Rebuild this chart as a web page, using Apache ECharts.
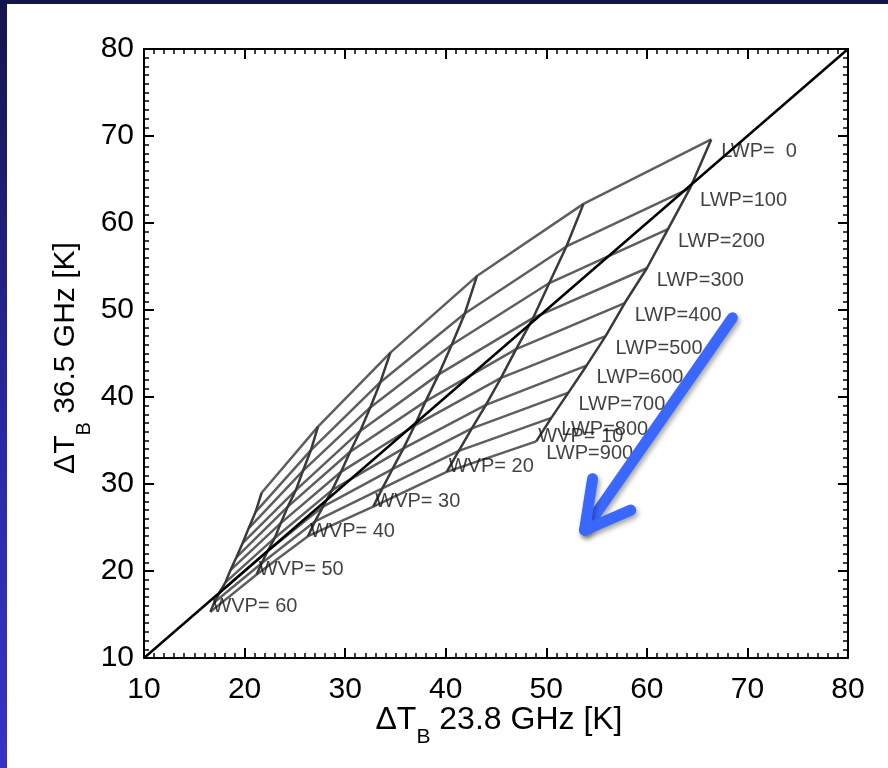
<!DOCTYPE html>
<html>
<head>
<meta charset="utf-8">
<script src="https://cdn.jsdelivr.net/npm/echarts@6/dist/echarts.min.js"></script>
<style>
  body { margin: 0; background: #fff; }
  #main { width: 888px; height: 768px; }
</style>
</head>
<body>
<div id="main"></div>
<script>
  // axis ticks
  const xTicks = [10, 20, 30, 40, 50, 60, 70, 80];
  const yTicks = [10, 20, 30, 40, 50, 60, 70, 80];

  // grid levels
  const wvpLevels = [10, 20, 30, 40, 50, 60];
  const lwpLevels = [0, 100, 200, 300, 400, 500, 600, 700, 800, 900];

  // points along each WVP line, LWP = 0 .. 900
  const wvp10X = [66.4, 64.3, 62.1, 60.0, 57.8, 55.9, 54.0, 52.2, 50.5, 49.0];
  const wvp10Y = [69.6, 64.0, 59.3, 54.8, 50.8, 47.0, 43.6, 40.5, 37.6, 34.9];
  const wvp20X = [53.7, 52.0, 50.3, 48.7, 47.0, 45.5, 44.0, 42.6, 41.3, 40.1];
  const wvp20Y = [62.2, 57.3, 53.1, 49.1, 45.5, 42.2, 39.1, 36.4, 33.8, 31.4];
  const wvp30X = [43.1, 41.9, 40.6, 39.3, 38.0, 36.9, 35.8, 34.7, 33.7, 32.8];
  const wvp30Y = [53.9, 49.6, 46.0, 42.6, 39.5, 36.7, 34.1, 31.7, 29.5, 27.4];
  const wvp40X = [34.5, 33.5, 32.5, 31.5, 30.5, 29.6, 28.7, 27.8, 27.0, 26.3];
  const wvp40Y = [45.1, 41.7, 38.8, 36.1, 33.7, 31.4, 29.3, 27.4, 25.7, 24.0];
  const wvp50X = [27.3, 26.6, 25.8, 25.1, 24.3, 23.6, 23.0, 22.3, 21.7, 21.2];
  const wvp50Y = [36.6, 33.9, 31.5, 29.3, 27.4, 25.5, 23.8, 22.3, 20.9, 19.6];
  const wvp60X = [21.7, 21.1, 20.4, 19.8, 19.2, 18.6, 18.1, 17.5, 17.0, 16.6];
  const wvp60Y = [29.0, 26.8, 24.9, 23.2, 21.6, 20.1, 18.7, 17.5, 16.4, 15.3];

  // 1:1 line
  const diagX = [10, 80];
  const diagY = [10, 80];

  // blue arrow: shaft start, tip, upper barb end, right barb end
  const arrowX = [68.5, 53.8, 54.6, 58.4];
  const arrowY = [49.1, 24.7, 30.6, 27.0];

  const font = 'Liberation Sans';
  const lineX = [wvp10X, wvp20X, wvp30X, wvp40X, wvp50X, wvp60X];
  const lineY = [wvp10Y, wvp20Y, wvp30Y, wvp40Y, wvp50Y, wvp60Y];

  function buildSeries() {
    let series = [];
    // lines of constant LWP
    lwpLevels.forEach(function (lwp, j) {
      series.push({
        type: 'line', name: 'LWP ' + lwp, showSymbol: false, silent: true, z: 2,
        lineStyle: { color: '#5e5e5e', width: 2.5 },
        data: wvpLevels.map(function (w, i) { return [lineX[i][j], lineY[i][j]]; })
      });
    });
    // lines of constant WVP
    wvpLevels.forEach(function (w, i) {
      series.push({
        type: 'line', name: 'WVP ' + w, showSymbol: false, silent: true, z: 3,
        lineStyle: { color: '#3a3a3a', width: 2.5 },
        data: lwpLevels.map(function (l, j) { return [lineX[i][j], lineY[i][j]]; })
      });
    });
    series.push({
      type: 'line', showSymbol: false, silent: true, z: 4,
      lineStyle: { color: '#000', width: 2.5 },
      data: diagX.map(function (x, k) { return [x, diagY[k]]; })
    });
    // LWP labels along the WVP=10 line
    series.push({
      type: 'scatter', symbolSize: 0, silent: true, z: 5,
      label: {
        show: true, position: [10, 12], align: 'left', verticalAlign: 'middle',
        fontFamily: font, fontSize: 20, color: '#111',
        formatter: function (p) { return p.name; }
      },
      data: lwpLevels.map(function (l, j) {
        return { name: 'LWP=' + String(l).padStart(3, ' '), value: [wvp10X[j], wvp10Y[j]] };
      })
    });
    // WVP labels at the LWP=900 ends
    series.push({
      type: 'scatter', symbolSize: 0, silent: true, z: 5,
      label: {
        show: true, position: [2, -5], align: 'left', verticalAlign: 'middle',
        fontFamily: font, fontSize: 20, color: '#111',
        formatter: function (p) { return p.name; }
      },
      data: wvpLevels.map(function (w, i) {
        return { name: 'WVP= ' + w, value: [lineX[i][9], lineY[i][9]] };
      })
    });
    // arrow: shaft, then head
    [[0, 1], [2, 1, 3]].forEach(function (seg) {
      series.push({
        type: 'line', showSymbol: false, silent: true, z: 6, clip: false,
        lineStyle: {
          color: '#3a68ff', width: 11, cap: 'round', join: 'round',
          shadowColor: 'rgba(0,0,0,0.35)', shadowBlur: 5, shadowOffsetX: 2, shadowOffsetY: 3
        },
        data: seg.map(function (k) { return [arrowX[k], arrowY[k]]; })
      });
    });
    return series;
  }

  function axisBase(pos, ticks, showLabel) {
    return {
      type: 'value', position: pos,
      min: ticks[0], max: ticks[ticks.length - 1], interval: ticks[1] - ticks[0],
      axisLine: { show: true, onZero: false, lineStyle: { color: '#000', width: 2 } },
      axisTick: { show: true, inside: true, length: 10, lineStyle: { color: '#000', width: 2 } },
      minorTick: { show: true, splitNumber: 10, length: 5, lineStyle: { color: '#000', width: 1.5 } },
      splitLine: { show: false },
      axisLabel: { show: showLabel, fontFamily: font, fontSize: 30, color: '#000', margin: pos === 'bottom' ? 17 : 10 }
    };
  }

  function nameRich(size) {
    return {
      n: { fontFamily: font, fontSize: size, fill: '#000', lineHeight: 56 },
      s: { fontFamily: font, fontSize: Math.round(size * 0.66), fill: '#000', lineHeight: 20, verticalAlign: 'bottom' }
    };
  }

  const option = {
    animation: false,
    backgroundColor: '#fff',
    grid: { left: 144, top: 49, right: 40, bottom: 110 },
    xAxis: [axisBase('bottom', xTicks, true), axisBase('top', xTicks, false)],
    yAxis: [axisBase('left', yTicks, true), axisBase('right', yTicks, false)],
    graphic: [
      {
        type: 'text', x: 499, y: 720, z: 10,
        style: { text: '{n|ΔT}{s|B}{n| 23.8 GHz [K]}', rich: nameRich(32), align: 'center', verticalAlign: 'middle' }
      },
      {
        type: 'text', x: 66, y: 358, rotation: Math.PI / 2, z: 10,
        style: { text: '{n|ΔT}{s|B}{n| 36.5 GHz [K]}', rich: nameRich(30), align: 'center', verticalAlign: 'middle' }
      },
      // dark slide frame
      {
        type: 'rect', left: 0, top: 0, z: 20, silent: true,
        shape: { width: 888, height: 4 }, style: { fill: '#14144c' }
      },
      {
        type: 'rect', left: 0, top: 0, z: 20, silent: true,
        shape: { width: 7, height: 768 },
        style: {
          fill: new echarts.graphic.LinearGradient(0, 0, 0, 1, [
            { offset: 0, color: '#14144c' },
            { offset: 0.6, color: '#2a2aa8' },
            { offset: 1, color: '#3434c6' }
          ])
        }
      }
    ],
    series: buildSeries()
  };

  let myChart = echarts.init(document.getElementById('main'));
  myChart.setOption(option);
</script>
</body>
</html>
